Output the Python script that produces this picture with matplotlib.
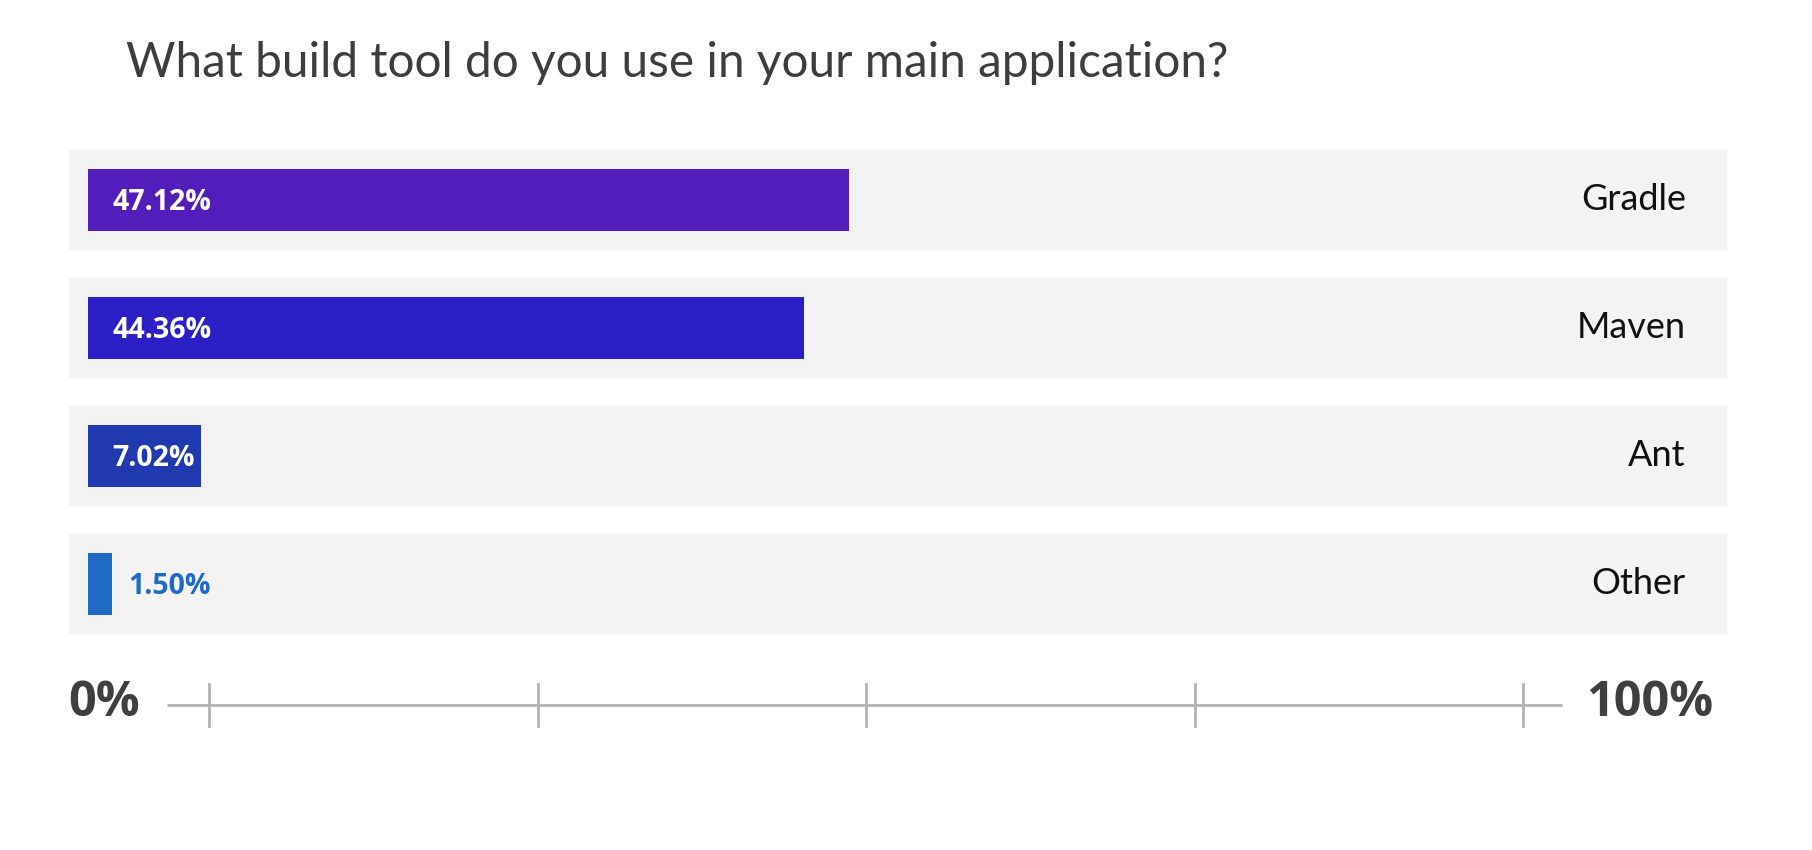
import matplotlib.pyplot as plt

# survey data
tools = ['Gradle', 'Maven', 'Ant', 'Other']
shares = [47.12, 44.36, 7.02, 1.50]
colors = ['#531dbc', '#2c1fc5', '#2139ae', '#1e6ac6']
title = 'What build tool do you use in your main application?'

W, H = 1812, 850
fig = plt.figure(figsize=(W / 100, H / 100), dpi=100)
fig.patch.set_facecolor('white')

def px(x0, y0, x1, y1):
    # pixel box (top-left origin) -> figure fraction rect
    return [x0 / W, 1 - y1 / H, (x1 - x0) / W, (y1 - y0) / H]

# bars axes: 0% sits at px 88, ~16.14 px per percent
x_lo, x_hi = -1.177, 101.55
ax = fig.add_axes(px(69, 140, 1727, 650))
ax.set_xlim(x_lo, x_hi)
ax.set_ylim(3 + 66 / 128, -60 / 128)
ax.axis('off')

ypos = list(range(len(tools)))
ax.barh(ypos, x_hi - x_lo, left=x_lo, height=0.78, color='#f3f3f3', zorder=1)
ax.barh(ypos, shares, left=0, height=0.484, color=colors, zorder=2)

for y, v, c, name in zip(ypos, shares, colors, tools):
    if v > 5:
        ax.text(1.49, y + 0.02, f'{v:.2f}%', color='white', fontsize=20.5,
                fontweight='bold', family='Open Sans', va='center', ha='left', zorder=3)
    else:
        ax.text(v + 1.0, y + 0.02, f'{v:.2f}%', color=c, fontsize=20.5,
                fontweight='bold', family='Open Sans', va='center', ha='left', zorder=3)
    ax.text(99.0, y, name, color='#111111', fontsize=26, family='Lato',
            va='center', ha='right', zorder=3)

# decorative scale under the bars
ax2 = fig.add_axes(px(209, 670, 1523, 740))
ax2.set_xlim(0, 100)
ax2.set_ylim(-1, 1)
ax2.axis('off')
ax2.plot([-3.2, 102.97], [0, 0], color='#b3b3b3', lw=2,
         solid_capstyle='butt', clip_on=False)
for t in [0, 25, 50, 75, 100]:
    ax2.plot([t, t], [-0.6, 0.6], color='#b3b3b3', lw=2, clip_on=False)

fig.text(68 / W, 1 - 704 / H, '0%', fontsize=35, fontweight='bold',
         family='Open Sans', color='#3f3f3f', ha='left', va='center')
fig.text(1713 / W, 1 - 704 / H, '100%', fontsize=35, fontweight='bold',
         family='Open Sans', color='#3f3f3f', ha='right', va='center')

fig.text(126 / W, 1 - 77 / H, title, fontsize=34.4, family='Lato',
         color='#3d3d3d', ha='left', va='baseline')

fig.savefig('out.png', dpi=100, facecolor='white')
